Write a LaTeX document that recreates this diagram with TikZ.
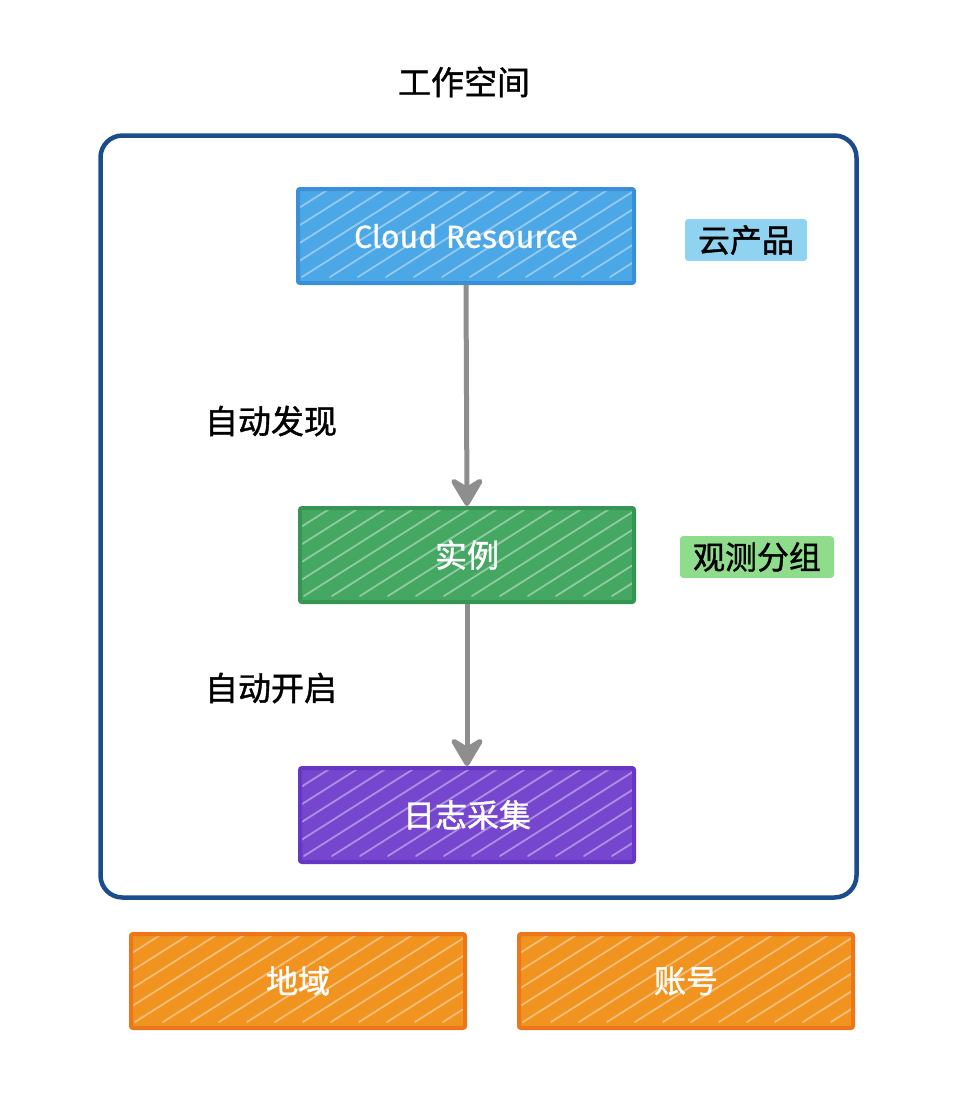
\documentclass[tikz,border=0pt]{standalone}
\usepackage{fontspec}
\newfontfamily\cjk[FakeBold=1.2]{Noto Sans CJK SC}
\newfontfamily\latinf[FakeBold=0.6]{Fira Sans}
\usetikzlibrary{arrows.meta}
\definecolor{frameblue}{HTML}{1B4D8C}
\definecolor{cloudfill}{HTML}{4CA7E6}
\definecolor{cloudline}{HTML}{3A90D8}
\definecolor{greenfill}{HTML}{45A862}
\definecolor{greenline}{HTML}{379553}
\definecolor{purplefill}{HTML}{7646CE}
\definecolor{purpleline}{HTML}{6636C4}
\definecolor{orangefill}{HTML}{F0931F}
\definecolor{orangeline}{HTML}{EC7619}
\definecolor{hlblue}{HTML}{8FD3F1}
\definecolor{hlgreen}{HTML}{8EDC8C}
\definecolor{arrowgray}{HTML}{8E8E8E}
\tikzset{
  sketchbox/.style={draw=#1line, line width=4pt, rounded corners=2pt, minimum width=334pt, minimum height=94pt,
    text=white, font=\cjk\fontsize{32}{36}\selectfont,
    path picture={\foreach \k in {-12,...,14}{\draw[white, opacity=0.4, line width=1.8pt, line cap=round]
      ([xshift=\k*28pt+4pt,yshift=6pt]path picture bounding box.south west) -- ++(150pt,95pt);}}},
  hl/.style={fill=#1, rounded corners=3pt, inner xsep=13pt, inner ysep=6pt, text=black, font=\cjk\fontsize{32}{36}\selectfont},
  lbl/.style={text=black, font=\cjk\fontsize{33}{36}\selectfont},
  flow/.style={draw=arrowgray, line width=5pt, -{Stealth[length=34pt,width=40pt,inset=12pt,round]}},
}
\begin{document}
\begin{tikzpicture}[x=1pt,y=-1pt]
\useasboundingbox[fill=white] (0,0) rectangle (960,1104);
\node[lbl] (title) at (464,82) {工作空间};
\node[draw=frameblue, line width=4.5pt, rounded corners=22pt, minimum width=756pt, minimum height=762pt] (frame) at (478.5,516.5) {};
\node[sketchbox=cloud, fill=cloudfill, font=\latinf\fontsize{32}{36}\selectfont, minimum width=336pt] (cloud) at (466,236) {Cloud Resource};
\node[hl=hlblue] (yun) at (746,240) {云产品};
\node[sketchbox=green, fill=greenfill] (inst) at (467,555) {实例};
\node[hl=hlgreen] (group) at (757,557) {观测分组};
\node[sketchbox=purple, fill=purplefill] (logs) at (467,815) {日志采集};
\node[sketchbox=orange, fill=orangefill] (region) at (298,981) {地域};
\node[sketchbox=orange, fill=orangefill] (account) at (686,981) {账号};
\node[lbl] (disc) at (271,421) {自动发现};
\node[lbl] (enable) at (271,688) {自动开启};
\draw[flow] (cloud.south) -- (inst.north);
\draw[flow] (inst.south) -- (logs.north);
\end{tikzpicture}
\end{document}
